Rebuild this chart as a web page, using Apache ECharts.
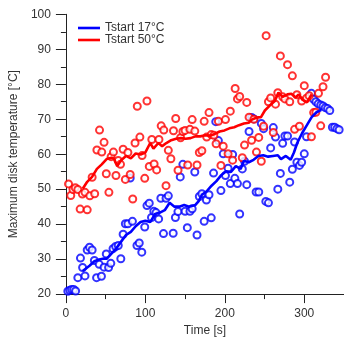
<!DOCTYPE html>
<html><head><meta charset="utf-8">
<script src="https://cdn.jsdelivr.net/npm/echarts@6/dist/echarts.min.js"></script>
<style>html,body{margin:0;padding:0;background:#fff}#c{width:344px;height:342px}</style>
</head><body><div id="c"></div>
<script>
// Tstart 17°C measured points [time s, temperature °C]
var bluePoints = [[2.4,20.8],[4.9,21.1],[7.3,21.3],[9.8,21.3],[12.2,20.9],[15,24.7],[18.3,30.3],[21,27.6],[24,25.2],[26.8,32.6],[29.7,33.4],[33,32.6],[35.8,29.6],[38.6,24.7],[41.9,28.5],[44.7,25.1],[48,27.7],[50.8,31.5],[53.7,27.6],[56.5,28.8],[59.3,33],[62.6,33.6],[65.9,33.9],[69.1,30.1],[72,37.1],[74.8,40.1],[78,40.1],[80.9,53.2],[83.7,40.8],[89.4,33.9],[92.3,34.6],[95.5,32],[99.2,39.2],[102,45.3],[104.9,46],[107.7,41.9],[110.6,43.7],[113.4,43.3],[116.7,41.5],[119.5,47.4],[122.8,37.3],[126,47.4],[128.9,48.1],[135,37.4],[137.8,41.9],[141,43.6],[143.9,53.5],[147.2,57.1],[150,43.7],[152.8,39],[156.1,43.7],[158.9,44.4],[162.2,54.9],[165,36.9],[167.9,47.9],[171.1,48.7],[174,40.8],[176.8,46.9],[180.1,48.4],[182.9,41.8],[185.8,54.6],[188.6,69.3],[191.9,63.9],[195.1,49.6],[198,60.1],[200.8,53.9],[204.1,56],[206.9,51.6],[209.8,59.9],[212.6,53.1],[215.9,51.6],[218.7,42.9],[222,55.8],[224.8,58],[227.6,51.3],[230.5,66.5],[233.7,70.5],[236.6,70.1],[239.4,49.2],[242.7,49.2],[245.9,68.8],[248.8,67.3],[251.6,46.5],[254.9,46.1],[257.7,61.8],[261,67.6],[263.8,64.9],[266.7,50],[269.9,54.5],[272.8,63.1],[275.6,65.2],[278.9,65.2],[281.7,52],[285,55.7],[287.8,63.5],[290.7,57.7],[293.9,56.8],[296.7,57.7],[300,60.1],[302.8,65],[309,77.4],[311.8,75.7],[314.6,75],[317.5,74.4],[320.7,74.1],[323.6,73.8],[326.4,73.3],[329.3,73.1],[332.1,72.5],[335.4,67.7],[338.2,67.7],[341.1,67.3],[343.9,67]];
// Tstart 50°C measured points
var redPoints = [[3.3,51.5],[6.1,48.2],[8.9,49.9],[11.8,50.4],[15,49.9],[17.9,44.3],[20.7,48.6],[24,49.1],[26.8,44.1],[30.1,48.1],[33,53.4],[36.2,48.7],[39,61.2],[42.3,66.9],[45.1,60.6],[48,63.4],[50.8,54.4],[54.1,49.1],[56.9,59.3],[59.8,60.6],[63,53.9],[65.9,58.2],[68.7,57.1],[72,61.4],[74.8,52.8],[78,60.5],[80.9,54.2],[84.1,47.2],[87,63.2],[89.8,73.7],[93.1,64.9],[95.9,59.6],[99.2,53.1],[102,75.2],[104.9,56.5],[108.1,64.2],[111,57.2],[114.2,55.5],[117.1,64.2],[119.9,68.1],[123.2,66.9],[126,51],[128.9,61.1],[132.1,58.7],[135.4,66.7],[138.2,70.2],[141.1,55.4],[144.3,64.7],[147.2,66.5],[150,66.8],[153.3,56.9],[156.1,67.1],[158.9,69.9],[162.2,66.6],[165,56.9],[167.9,60.5],[171.1,61],[174,69.4],[177.2,64.9],[180.1,71.9],[182.9,65.6],[186.2,65.4],[189,63],[191.9,69.4],[195.1,56.8],[198,62.3],[200.8,69.9],[204.1,60.1],[206.9,72.3],[209.8,58.3],[213,78.8],[215.9,75.8],[218.7,76.5],[222,59],[224.8,62.6],[227.6,74.8],[230.5,70.6],[233.7,64],[236.6,70],[239.8,60.6],[242.7,64.8],[245.9,58],[248.8,68],[252,93.9],[254.9,75],[257.7,76.1],[261,66.2],[263.8,74.3],[266.7,77.6],[269.9,88.1],[272.8,76.4],[275.6,75.8],[278.9,85.6],[281.7,75],[285,82.4],[287.8,67.1],[290.7,77],[293.9,68],[296.7,75.2],[300,79.6],[302.8,76],[306.1,76.7],[309,65],[311.8,71.9],[314.6,72],[317.9,77.4],[320.7,68.1],[323.6,79.3],[326.8,82]];
// smoothed curves
var blueLine = [[21.1,26.6],[29.7,28.1],[35.8,29.4],[41.9,29.9],[48,30.2],[51.2,30.1],[57.3,31.6],[63.4,33.1],[69.5,35],[75.6,36.9],[81.7,37.8],[87.8,39.4],[93.9,40.6],[100,41],[106.1,40.6],[112.2,42.9],[118.3,43.3],[124.4,44],[130.5,46.1],[136.6,45],[142.7,45],[148.8,45.5],[154.9,45],[163,45.5],[167.1,46.6],[171.1,48.4],[177.2,49.4],[183.3,51],[189.4,52.3],[195.5,54],[201.6,55.1],[207.7,54.9],[213.8,56.6],[219.9,55.8],[224,58.1],[230.1,57.7],[236.2,58.4],[242.3,59.5],[248.4,59.7],[254.5,59.3],[260.6,59.5],[266.7,59.7],[270.7,58.6],[276.8,59.5],[282.9,58.4],[287,60.5],[291.1,63.2],[297.2,66],[303.3,68.3],[309.3,70.6],[315.4,72],[321.5,72.7]];
var redLine = [[21.1,50.1],[26.8,52.1],[32.9,53.5],[39,55.8],[45.1,57.1],[51.2,58.6],[57.3,59],[60.2,58.8],[64.6,56.6],[69.5,58.3],[75.6,59.5],[81.7,58.8],[87.8,60.2],[93.9,59.9],[100,60.5],[106.1,63.2],[110.2,61.6],[116.3,63.2],[121.1,62.3],[126.4,63.2],[132.5,64],[138.6,64.4],[144.7,64.6],[150.8,64.4],[156.9,64.6],[163,65.1],[169.1,65.1],[175.2,65.4],[181.3,65.3],[187.4,65.8],[193.5,66.5],[199.6,66.8],[205.7,67.4],[211.8,67.7],[217.9,68.3],[224,68.8],[230.1,69],[234.1,69.9],[240.2,70.5],[245.5,70.6],[250.4,72.5],[256.5,73.9],[262.6,75.1],[267.5,77.6],[272.8,76.4],[278.9,77.1],[283.7,77.3],[289,76.2],[293.1,77.1],[297.2,75.7],[303.3,74.8],[309.3,77.1]];
var seriesNames = ['Tstart 17°C','Tstart 50°C'];

var BLUE = '#0000ff', RED = '#ff0000';
var FONT = 'Liberation Sans, Arial, sans-serif';
var chart = echarts.init(document.getElementById('c'), null, {renderer:'canvas'});
chart.setOption({
  animation:false,
  grid:{left:58, right:-1, top:14.3, bottom:39.7},
  legend:{orient:'vertical', left:73, top:17, itemWidth:22, itemHeight:2.6, itemGap:0, icon:'rect',
    data:seriesNames,
    textStyle:{fontFamily:FONT, fontSize:12, color:'#333', padding:[0,0,0,0]}},
  xAxis:{type:'value', min:0, max:350, interval:100,
    name:'Time [s]', nameLocation:'middle', nameGap:29, nameTextStyle:{fontFamily:FONT, fontSize:12, color:'#333'},
    axisLine:{lineStyle:{color:'#222', width:1}},
    axisTick:{show:true, length:9, lineStyle:{color:'#222'}},
    minorTick:{show:true, splitNumber:2, length:5, lineStyle:{color:'#222'}},
    axisLabel:{margin:14, showMaxLabel:false, fontFamily:FONT, fontSize:12, color:'#333'},
    splitLine:{show:false}},
  yAxis:{type:'value', min:20, max:100, interval:10,
    name:'Maximum disk temperature [°C]', nameLocation:'middle', nameGap:40, nameTextStyle:{fontFamily:FONT, fontSize:12, color:'#333'},
    axisLine:{show:true, lineStyle:{color:'#222', width:1}},
    axisTick:{show:true, length:10, lineStyle:{color:'#222'}},
    minorTick:{show:true, splitNumber:2, length:5, lineStyle:{color:'#222'}},
    axisLabel:{margin:15, fontFamily:FONT, fontSize:12, color:'#333'},
    splitLine:{show:false}},
  series:[
    {name:'b pts', type:'scatter', data:bluePoints, symbol:'emptyCircle', symbolSize:7, itemStyle:{color:BLUE, borderColor:BLUE, borderWidth:1.8}, z:2},
    {name:'r pts', type:'scatter', data:redPoints, symbol:'emptyCircle', symbolSize:7, itemStyle:{color:RED, borderColor:RED, borderWidth:1.8}, z:2},
    {name:seriesNames[0], type:'line', data:blueLine, symbol:'none', lineStyle:{color:BLUE, width:2.6}, itemStyle:{color:BLUE}, z:3},
    {name:seriesNames[1], type:'line', data:redLine, symbol:'none', lineStyle:{color:RED, width:2.6}, itemStyle:{color:RED}, z:3}
  ]
});
</script></body></html>
